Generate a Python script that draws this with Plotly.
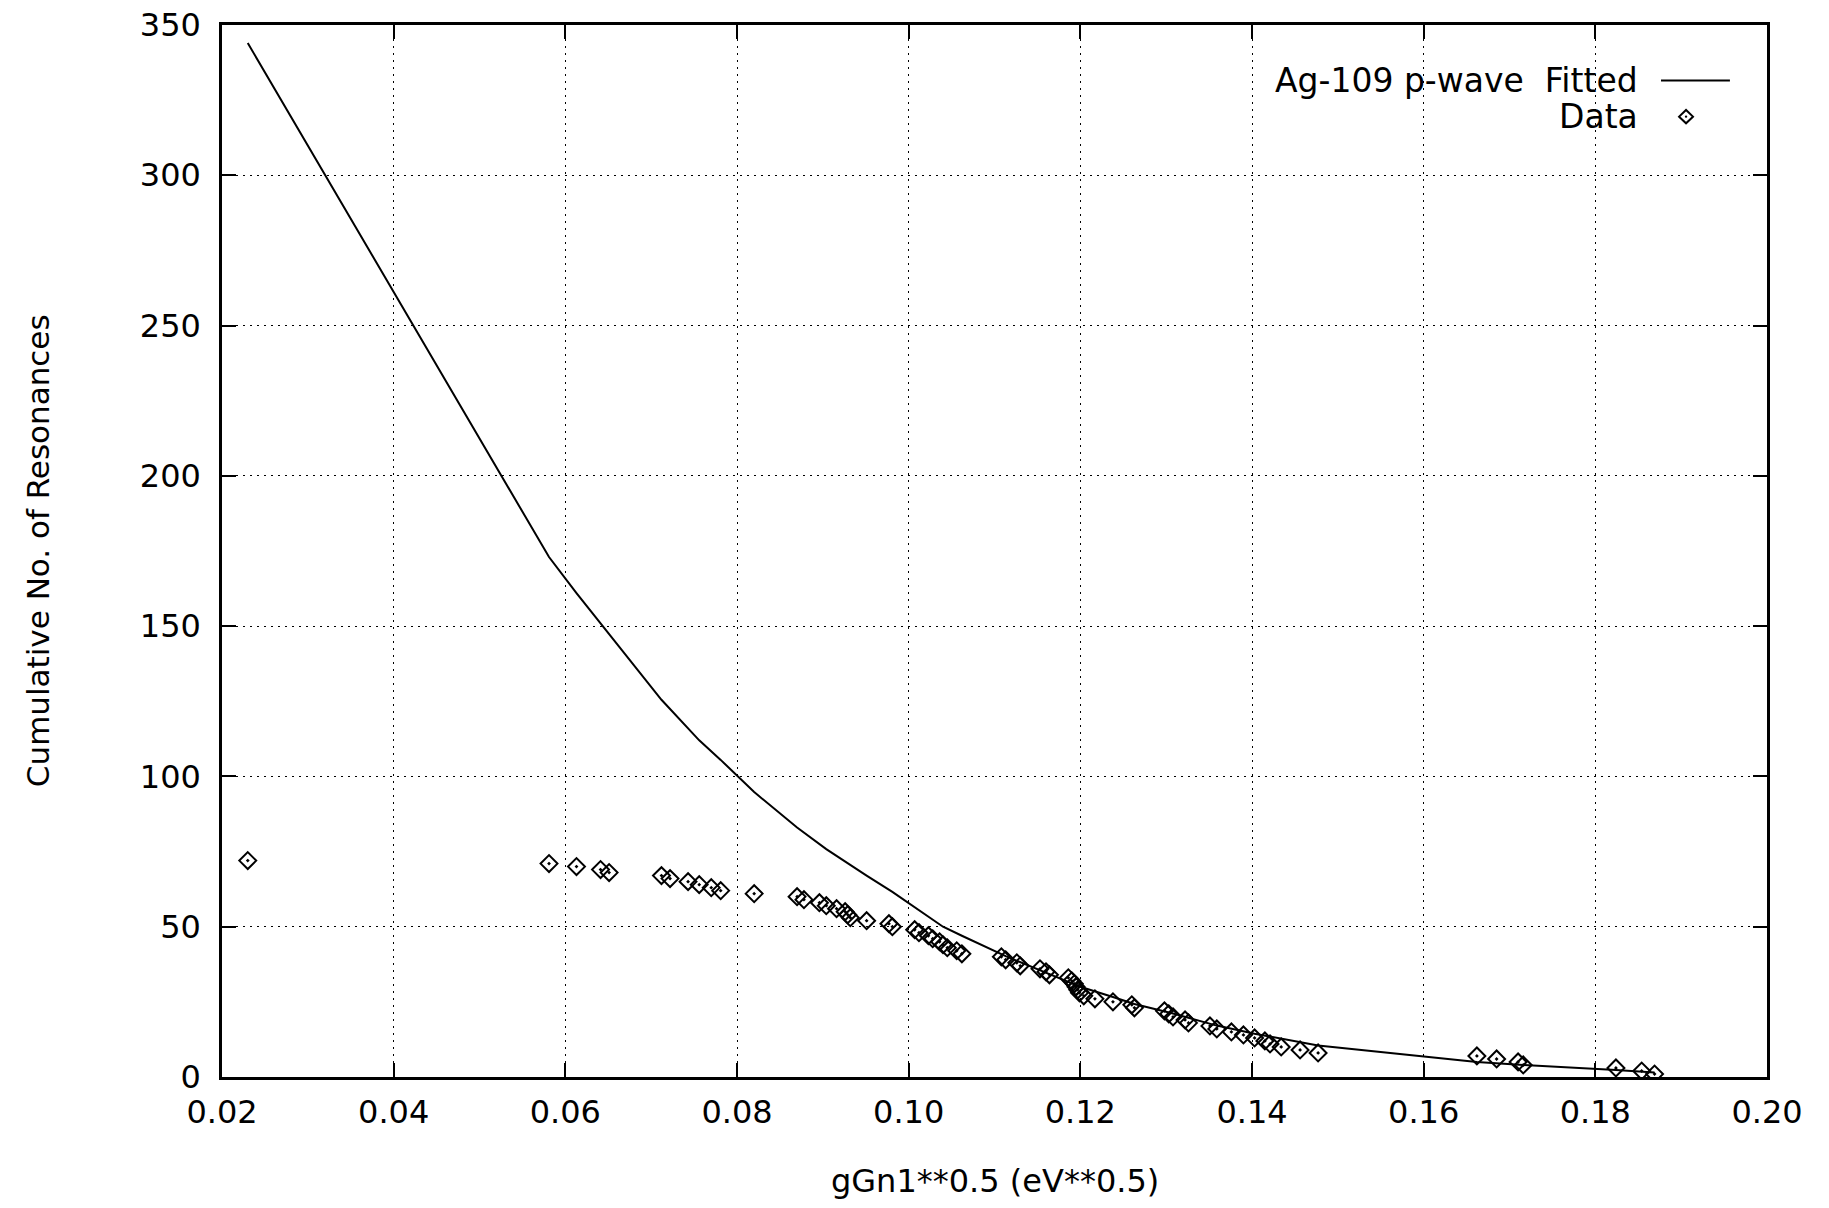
import plotly.graph_objects as go

# ---- data ----
data_x = [0.0230, 0.0581, 0.0613, 0.0641, 0.0651, 0.0712, 0.0722, 0.0743, 0.0756, 0.0770,
          0.0781, 0.0820, 0.0870, 0.0878, 0.0896, 0.0904, 0.0916, 0.0926, 0.0929, 0.0932,
          0.0951, 0.0977, 0.0981, 0.1007, 0.1012, 0.1023, 0.1028, 0.1036, 0.1040, 0.1045,
          0.1056, 0.1062, 0.1108, 0.1113, 0.1126, 0.1130, 0.1153, 0.1160, 0.1164, 0.1186,
          0.1190, 0.1193, 0.1195, 0.1197, 0.1199, 0.1204, 0.1217, 0.1238, 0.1260, 0.1263,
          0.1298, 0.1303, 0.1308, 0.1322, 0.1326, 0.1351, 0.1359, 0.1376, 0.1390, 0.1403,
          0.1415, 0.1421, 0.1434, 0.1456, 0.1477, 0.1662, 0.1685, 0.1710, 0.1716, 0.1824,
          0.1854, 0.1869]
data_y = [72, 71, 70, 69, 68, 67, 66, 65, 64, 63,
          62, 61, 60, 59, 58, 57, 56, 55, 54, 53,
          52, 51, 50, 49, 48, 47, 46, 45, 44, 43,
          42, 41, 40, 39, 38, 37, 36, 35, 34, 33,
          32, 31, 30, 29, 28, 27, 26, 25, 24, 23,
          22, 21, 20, 19, 18, 17, 16, 15, 14, 13,
          12, 11, 10, 9, 8, 7, 6, 5, 4, 3,
          2, 1]

fit_x = [0.0230, 0.0581, 0.0613, 0.0651, 0.0712, 0.0756, 0.0781, 0.0820, 0.0870, 0.0904,
         0.0932, 0.0951, 0.0981, 0.1007, 0.1040, 0.1062, 0.1113, 0.1164, 0.1199, 0.1238,
         0.1263, 0.1308, 0.1359, 0.1403, 0.1434, 0.1477, 0.1662, 0.1716, 0.1824, 0.1869]
fit_y = [344, 173, 161, 147.5, 125.5, 112, 105.5, 94.8, 83, 75.8,
         70.4, 67, 61.6, 56.5, 50, 47, 40.2, 34.2, 30.1, 26.6,
         24.3, 21.1, 17.1, 14.4, 12.8, 10.5, 5.0, 4.0, 2.3, 1.5]

x_ticks = [0.02, 0.04, 0.06, 0.08, 0.10, 0.12, 0.14, 0.16, 0.18, 0.20]
x_tick_text = ["0.02", "0.04", "0.06", "0.08", "0.10", "0.12", "0.14", "0.16", "0.18", "0.20"]
y_ticks = [0, 50, 100, 150, 200, 250, 300, 350]
y_tick_text = ["0", "50", "100", "150", "200", "250", "300", "350"]

legend_title = "Ag-109 p-wave\u00a0\u00a0Fitted"
legend_data = "Data"
x_title = "gGn1**0.5 (eV**0.5)"
y_title = "Cumulative No. of Resonances"

FONT = "DejaVu Sans"

fig = go.Figure()
fig.add_trace(go.Scatter(x=fit_x, y=fit_y, mode="lines",
                         line=dict(color="black", width=2), name="Fitted"))
fig.add_trace(go.Scatter(x=data_x, y=data_y, mode="markers",
                         marker=dict(symbol="diamond-open-dot", size=13, color="black",
                                     line=dict(color="black", width=2)),
                         name="Data"))

axis_common = dict(showline=True, linecolor="black", linewidth=2.5, mirror="ticks",
                   ticks="inside", ticklen=14, tickwidth=2, tickcolor="black",
                   showgrid=True, gridcolor="black", gridwidth=1.2, griddash="2px,5px",
                   zeroline=False, ticklabeloverflow="allow", automargin=False,
                   tickfont=dict(family=FONT, size=32, color="black"))

fig.update_xaxes(range=[0.02, 0.20], tickvals=x_ticks, ticktext=x_tick_text,
                 ticklabelstandoff=5, **axis_common)
fig.update_yaxes(range=[0, 350], tickvals=y_ticks, ticktext=y_tick_text,
                 ticklabelstandoff=12, **axis_common)

annotations = [
    dict(text=x_title, x=0.5, y=-0.0989, xref="paper", yref="paper",
         xanchor="center", yanchor="middle", showarrow=False,
         font=dict(family=FONT, size=32, color="black")),
    dict(text=y_title, x=-0.119, y=0.5, xref="paper", yref="paper",
         xanchor="center", yanchor="middle", textangle=-90, showarrow=False,
         font=dict(family=FONT, size=31, color="black")),
    dict(text=legend_title, x=0.918, y=0.9473, xref="paper", yref="paper",
         xanchor="right", yanchor="middle", showarrow=False,
         font=dict(family=FONT, size=33, color="black")),
    dict(text=legend_data, x=0.918, y=0.9129, xref="paper", yref="paper",
         xanchor="right", yanchor="middle", showarrow=False,
         font=dict(family=FONT, size=33, color="black")),
]

# legend keys (layout decoration)
kx, ky = 0.9476, 0.9129
dx, dy = 0.0045, 0.0063
shapes = [
    dict(type="line", xref="paper", yref="paper", x0=0.9314, x1=0.976, y0=0.9473, y1=0.9473,
         line=dict(color="black", width=2)),
    dict(type="path", xref="paper", yref="paper",
         path=f"M {kx-dx} {ky} L {kx} {ky+dy} L {kx+dx} {ky} L {kx} {ky-dy} Z",
         line=dict(color="black", width=2)),
    dict(type="circle", xref="paper", yref="paper", x0=kx-0.0008, x1=kx+0.0008,
         y0=ky-0.0011, y1=ky+0.0011, fillcolor="black", line=dict(color="black", width=0)),
]

# page body has an 8px margin: size the figure so the plot box lands where the reference has it
fig.update_layout(width=1813, height=1192,
                  margin=dict(l=214, r=54, t=17, b=123, autoexpand=False),
                  plot_bgcolor="white", paper_bgcolor="white",
                  showlegend=False, annotations=annotations, shapes=shapes,
                  font=dict(family=FONT, color="black"))

fig.write_html("out.html")
